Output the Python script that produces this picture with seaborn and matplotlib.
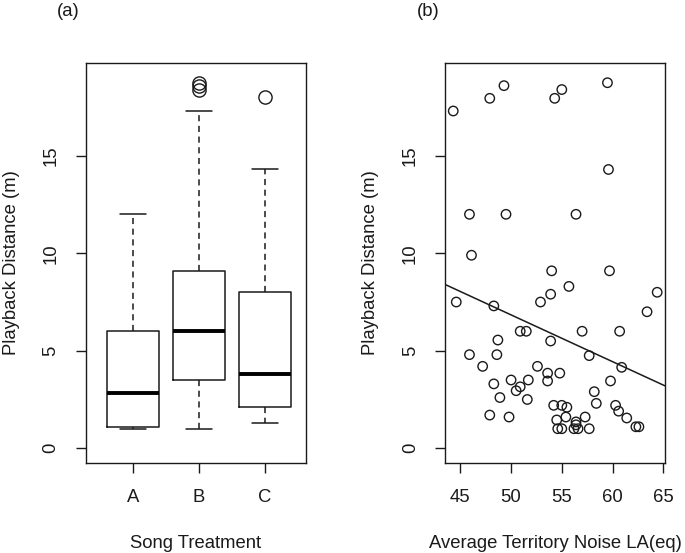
import numpy as np
import pandas as pd
import matplotlib
matplotlib.use("Agg")
import matplotlib.pyplot as plt
import seaborn as sns

# (a) box summaries per song treatment
treatments = ["A", "B", "C"]
box_median = [2.85, 6.0, 3.8]
box_q1 = [1.1, 3.5, 2.1]
box_q3 = [6.0, 9.1, 8.0]
whisker_low = [1.0, 1.0, 1.3]
whisker_high = [12.0, 17.3, 14.3]
box_outliers = [[], [18.4, 18.6, 18.75], [18.0]]

# (b) territory noise vs playback distance
noise_db = [44.3, 47.9, 49.3, 54.3, 55.0, 59.5, 59.6, 45.9, 49.5, 56.4,
            46.1, 44.6, 54.0, 59.7, 55.7, 64.4, 53.9, 52.9, 48.3, 63.4,
            50.9, 51.5, 57.0, 60.7, 48.7, 53.9, 45.9, 48.6, 57.7, 47.2,
            52.6, 60.9, 53.6, 54.8, 50.0, 51.7, 53.6, 59.8, 48.3, 50.9,
            50.5, 58.2, 48.9, 51.6, 58.4, 54.2, 55.0, 55.5, 60.3, 60.6,
            47.9, 49.8, 55.4, 57.3, 61.4, 54.5, 56.4, 62.3, 62.6, 54.6,
            55.0, 56.2, 56.6, 57.7, 56.4]
distance_m = [17.3, 17.95, 18.6, 17.95, 18.4, 18.75, 14.3, 12.0, 12.0, 12.0,
              9.9, 7.5, 9.1, 9.1, 8.3, 8.0, 7.9, 7.5, 7.3, 7.0,
              6.0, 6.0, 6.0, 6.0, 5.55, 5.5, 4.8, 4.8, 4.75, 4.2,
              4.2, 4.15, 3.85, 3.85, 3.5, 3.5, 3.45, 3.45, 3.3, 3.15,
              2.95, 2.9, 2.6, 2.5, 2.3, 2.2, 2.2, 2.1, 2.2, 1.9,
              1.7, 1.6, 1.6, 1.6, 1.55, 1.45, 1.35, 1.1, 1.1, 1.0,
              1.0, 1.0, 1.0, 1.0, 1.2]

# fitted line shown in (b)
fit_intercept = 18.84
fit_slope = -0.240

sns.set_style("white")
plt.rcParams["font.family"] = ["Liberation Sans", "DejaVu Sans"]
plt.rcParams["font.size"] = 13.3

ink = "#1a1a1a"
fig = plt.figure(figsize=(6.85, 5.53), dpi=100)
ax1 = fig.add_axes([0.1251, 0.1627, 0.3212, 0.7233])
ax2 = fig.add_axes([0.6501, 0.1627, 0.3207, 0.7233])

# ---- panel (a): boxplot from summary stats
stats = []
for i, t in enumerate(treatments):
    stats.append({"label": t, "med": box_median[i], "q1": box_q1[i], "q3": box_q3[i],
                  "whislo": whisker_low[i], "whishi": whisker_high[i],
                  "fliers": box_outliers[i]})
ax1.bxp(stats, positions=[1, 2, 3], widths=0.8, capwidths=0.4,
        boxprops=dict(color=ink, linewidth=1.1),
        medianprops=dict(color="black", linewidth=2.8, solid_capstyle="butt"),
        whiskerprops=dict(color=ink, linewidth=1.1, linestyle=(0, (4, 3))),
        capprops=dict(color=ink, linewidth=1.1),
        flierprops=dict(marker="o", markerfacecolor="none", markeredgecolor=ink,
                        markersize=9.5, markeredgewidth=1.0))
ax1.set_xlim(0.28, 3.62)
ax1.set_xticks([1, 2, 3])
ax1.set_xticklabels(treatments)
ax1.set_xlabel("Song Treatment")

# ---- panel (b): scatter + fitted line
df = pd.DataFrame({"noise": noise_db, "distance": distance_m})
sns.scatterplot(data=df, x="noise", y="distance", ax=ax2, marker="o",
                facecolor="none", edgecolor=ink, linewidth=1.0, s=46)
ax2.axline((0, fit_intercept), slope=fit_slope, color=ink, linewidth=1.1)
ax2.set_xlim(43.52, 65.17)
ax2.set_xticks([45, 50, 55, 60, 65])
ax2.set_xlabel("Average Territory Noise LA(eq)")

for ax in (ax1, ax2):
    ax.set_ylim(-0.76, 19.76)
    ax.set_yticks([0, 5, 10, 15])
    ax.set_ylabel("Playback Distance (m)")
    for sp in ax.spines.values():
        sp.set_visible(True)
        sp.set_color(ink)
        sp.set_linewidth(1.0)
    ax.tick_params(direction="out", length=7, width=1.0, color=ink,
                   labelcolor=ink, labelsize=13.3, left=True, bottom=True)
    ax.tick_params(axis="x", pad=12)
    ax.tick_params(axis="y", pad=12)
    for lab in ax.get_yticklabels():
        lab.set_rotation(90)
        lab.set_va("center")
    ax.yaxis.set_label_coords(-0.300, 0.5)
    ax.xaxis.set_label_coords(0.5, -0.18)
    ax.xaxis.label.set_color(ink)
    ax.yaxis.label.set_color(ink)

fig.text(68 / 685, 1 - 11 / 553, "(a)", ha="center", va="center", fontsize=13.3, color=ink)
fig.text(428 / 685, 1 - 11 / 553, "(b)", ha="center", va="center", fontsize=13.3, color=ink)

fig.savefig("out.png", dpi=100, facecolor="white")
